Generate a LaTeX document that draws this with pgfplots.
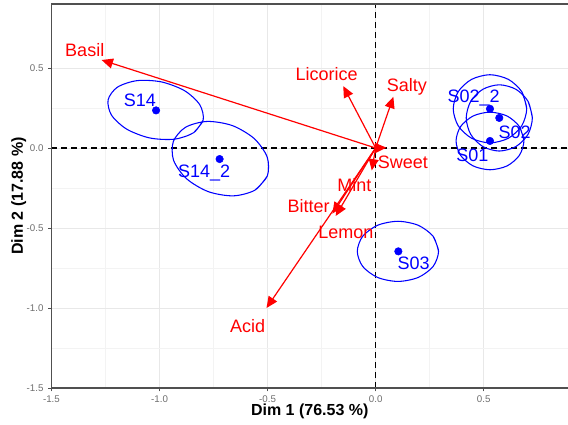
\documentclass[border=0pt]{standalone}
\usepackage{fontspec}
\setmainfont{Liberation Sans}
\usepackage{pgfplots}
\pgfplotsset{compat=1.18}
\usetikzlibrary{arrows.meta}
\definecolor{varred}{RGB}{255,0,0}
\definecolor{indblue}{RGB}{0,0,255}
\definecolor{gridmaj}{RGB}{232,232,232}
\definecolor{gridmin}{RGB}{243,243,243}
\definecolor{framecol}{RGB}{80,80,80}
\definecolor{ticktext}{RGB}{110,110,110}

\begin{document}
\begin{tikzpicture}
\begin{axis}[
    name=ax,
    scale only axis,
    width=387.4pt, height=288pt,
    xmin=-1.5, xmax=0.89, ymin=-1.5, ymax=0.9,
    xtick={-1.5,-1,-0.5,0,0.5},
    ytick={-1.5,-1,-0.5,0,0.5},
    minor tick num=1,
    grid=both,
    major grid style={gridmaj, line width=0.7pt},
    minor grid style={gridmin, line width=0.5pt},
    axis line style={draw=none},
    tick pos=left,
    tick align=outside,
    major tick length=2.5pt,
    minor tick length=0pt,
    tick style={framecol, line width=0.6pt},
    /pgf/number format/assume math mode=true,
    /pgf/number format/fixed,
    /pgf/number format/fixed zerofill,
    /pgf/number format/precision=1,
    ticklabel style={font=\fontsize{7.3}{8}\selectfont, text=ticktext},
    xlabel={Dim 1 (76.53 \%)},
    ylabel={Dim 2 (17.88 \%)},
    label style={font=\bfseries\fontsize{12}{14}\selectfont},
    xlabel style={at={([yshift=-17.5pt]rel axis cs:0.5,0)}, anchor=center},
    ylabel style={at={([xshift=-24.5pt]rel axis cs:0,0.5)}, anchor=center},
    clip=false,
]
% zero lines
\addplot[black, line width=1pt, dash pattern=on 4.5pt off 3pt] coordinates {(-1.5,0) (0.89,0)};
\addplot[black, line width=1pt, dash pattern=on 4.5pt off 3pt] coordinates {(0,-1.5) (0,0.9)};

% confidence ellipses
\addplot[indblue, line width=0.8pt, smooth, mark=none] coordinates {
 (-0.798,0.175) (-0.842,0.096) (-0.932,0.055) (-1.046,0.063) (-1.152,0.118) (-1.222,0.205)
 (-1.238,0.301) (-1.195,0.380) (-1.104,0.421) (-0.991,0.413) (-0.884,0.358) (-0.814,0.271)
 (-0.798,0.175) (-0.842,0.096)};
\addplot[indblue, line width=0.8pt, smooth, mark=none] coordinates {
 (-0.501,-0.174) (-0.558,-0.263) (-0.658,-0.299) (-0.774,-0.273) (-0.875,-0.192) (-0.935,-0.077)
 (-0.936,0.041) (-0.879,0.130) (-0.779,0.166) (-0.663,0.140) (-0.562,0.059) (-0.502,-0.056)
 (-0.501,-0.174) (-0.558,-0.263)};
\addplot[indblue, line width=0.8pt, smooth, mark=none] coordinates {
 (0.291,-0.646) (0.266,-0.552) (0.197,-0.483) (0.103,-0.458) (0.009,-0.483) (-0.060,-0.552)
 (-0.085,-0.646) (-0.060,-0.740) (0.009,-0.809) (0.103,-0.834) (0.197,-0.809) (0.266,-0.740)
 (0.291,-0.646) (0.266,-0.552)};
\addplot[indblue, line width=0.8pt, smooth, mark=none] coordinates {
 (0.686,0.044) (0.665,0.134) (0.608,0.200) (0.529,0.224) (0.451,0.200) (0.393,0.134)
 (0.372,0.044) (0.393,-0.046) (0.451,-0.112) (0.529,-0.136) (0.608,-0.112) (0.665,-0.046)
 (0.686,0.044) (0.665,0.134)};
\addplot[indblue, line width=0.8pt, smooth, mark=none] coordinates {
 (0.699,0.245) (0.676,0.352) (0.614,0.429) (0.529,0.458) (0.444,0.429) (0.382,0.352)
 (0.359,0.245) (0.382,0.139) (0.444,0.061) (0.529,0.032) (0.614,0.061) (0.676,0.139)
 (0.699,0.245) (0.676,0.352)};
\addplot[indblue, line width=0.8pt, smooth, mark=none] coordinates {
 (0.725,0.188) (0.705,0.292) (0.649,0.367) (0.572,0.395) (0.496,0.367) (0.440,0.292)
 (0.419,0.188) (0.440,0.085) (0.496,0.009) (0.572,-0.019) (0.649,0.009) (0.705,0.085)
 (0.725,0.188) (0.705,0.292)};

% individuals
\addplot[only marks, mark=*, mark size=2.8pt, indblue] coordinates {
 (-1.016,0.235) (-0.722,-0.069) (0.529,0.245) (0.572,0.188) (0.529,0.044) (0.105,-0.646)};

% variable arrows
\pgfplotsset{varrow/.style={varred, line width=0.9pt, mark=none, -{Triangle[length=8.5pt,width=7.5pt]}}}
\addplot[varrow] coordinates {(0,0) (-1.268,0.550)};
\addplot[varrow] coordinates {(0,0) (-0.150,0.387)};
\addplot[varrow] coordinates {(0,0) (0.082,0.320)};
\addplot[varrow] coordinates {(0,0) (0.050,0.002)};
\addplot[varrow] coordinates {(0,0) (-0.018,-0.140)};
\addplot[varrow] coordinates {(0,0) (-0.200,-0.410)};
\addplot[varrow] coordinates {(0,0) (-0.185,-0.425)};
\addplot[varrow] coordinates {(0,0) (-0.505,-1.000)};

% labels
\addplot[draw=none, mark=none, point meta=explicit symbolic, nodes near coords,
  nodes near coords style={anchor=center, text=varred, font=\fontsize{13.5}{15}\selectfont}]
  coordinates {
 (-1.346,0.613) [Basil]
 (-0.227,0.462) [Licorice]
 (0.145,0.384) [Salty]
 (0.126,-0.088) [Sweet]
 (-0.098,-0.234) [Mint]
 (-0.310,-0.360) [Bitter]
 (-0.138,-0.529) [Lemon]
 (-0.592,-1.112) [Acid]
};
\addplot[draw=none, mark=none, point meta=explicit symbolic, nodes near coords,
  nodes near coords style={anchor=center, text=indblue, font=\fontsize{13.5}{15}\selectfont}]
  coordinates {
 (-1.091,0.299) [S14]
 (-0.794,-0.155) [S14\_2]
 (0.176,-0.723) [S03]
 (0.453,0.310) [S02\_2]
 (0.643,0.100) [S02]
 (0.448,-0.043) [S01]
};

% panel border (left, bottom, top)
\draw[framecol, line width=0.8pt] (rel axis cs:1,1) -- (rel axis cs:0,1) -- (rel axis cs:0,0) -- (rel axis cs:1,0);
\end{axis}
\pgfresetboundingbox
\useasboundingbox ([xshift=-38.6pt,yshift=-27.75pt]ax.south west) rectangle ([yshift=3pt]ax.north east);
\end{tikzpicture}
\end{document}
